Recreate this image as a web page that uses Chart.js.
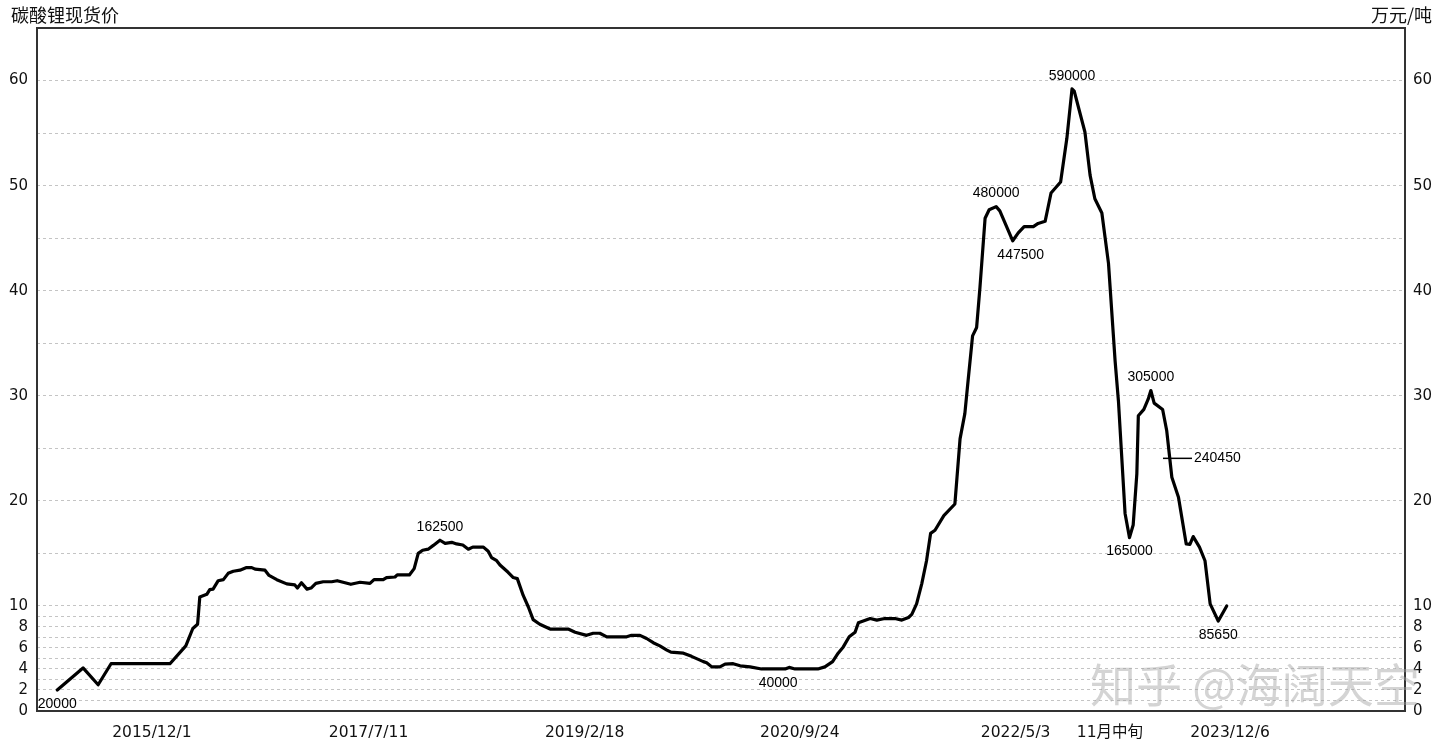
<!DOCTYPE html>
<html lang="zh-CN">
<head>
<meta charset="UTF-8">
<title>碳酸锂现货价</title>
<script src="https://cdn.jsdelivr.net/npm/chart.js"></script>
<style>
  body { margin: 0; background: #fff; }
  #wrap { position: relative; width: 1440px; height: 739px; }
  .cap { position: absolute; top: 5px; font-size: 18px; line-height: 18px; color: #111;
         font-family: 'Noto Sans CJK SC', sans-serif; }
  #wm { position: absolute; left: 1090px; top: 659px; font-size: 46px; line-height: 46px;
        font-family: 'Noto Sans CJK SC', sans-serif; color: rgba(160,160,160,0.45);
        white-space: nowrap; pointer-events: none; }
</style>
</head>
<body>
<div id="wrap">
  <canvas id="myChart" width="1440" height="739"></canvas>
  <div class="cap" style="left:11px">碳酸锂现货价</div>
  <div class="cap" style="right:8px">万元/吨</div>
  <div id="wm">知乎 @海阔天空</div>
</div>
<script>
// 横轴：距 2015/12/1 的天数；纵轴：万元/吨
var days = [-257, -187, -146, -111, 49, 92, 111, 124, 130, 149, 157, 166, 180, 194, 207, 221, 239, 257, 271, 280,
  307, 318, 339, 366, 388, 395, 406, 421, 432, 445, 465, 488, 503, 519, 540, 565, 592, 603, 628, 637,
  660, 666, 699, 712, 723, 735, 750, 764, 782, 796, 814, 827, 844, 859, 871, 900, 913, 922, 936, 945,
  967, 981, 992, 1008, 1022, 1035, 1053, 1081, 1130, 1149, 1180, 1198, 1216, 1235, 1289, 1302, 1325, 1343, 1361, 1379,
  1398, 1409, 1443, 1465, 1497, 1506, 1520, 1542, 1556, 1578, 1597, 1624, 1655, 1700, 1719, 1730, 1746, 1808, 1827, 1848,
  1863, 1877, 1893, 1909, 1918, 1950, 1968, 1990, 2017, 2036, 2054, 2063, 2076, 2090, 2103, 2114, 2126, 2150, 2180, 2194,
  2207, 2216, 2228, 2239, 2248, 2262, 2273, 2292, 2302, 2337, 2352, 2368, 2393, 2406, 2425, 2441, 2467, 2484, 2498, 2504,
  2533, 2547, 2560, 2579, 2597, 2615, 2624, 2642, 2654, 2664, 2674, 2678, 2693, 2705, 2712, 2721, 2744, 2755, 2769, 2787,
  2808, 2818, 2827, 2844, 2859, 2873, 2895, 2918];

var price = [2.0, 4.1, 2.5, 4.5, 4.5, 6.2, 7.85, 8.26, 10.85, 11.1, 11.55, 11.6, 12.4, 12.5, 13.1, 13.3, 13.4, 13.65, 13.65, 13.5,
  13.4, 12.9, 12.5, 12.1, 12.0, 11.7, 12.2, 11.6, 11.7, 12.15, 12.3, 12.3, 12.4, 12.25, 12.06, 12.25, 12.15, 12.5, 12.5, 12.7,
  12.75, 12.95, 12.95, 13.55, 15.0, 15.3, 15.4, 15.76, 16.25, 15.95, 16.05, 15.9, 15.8, 15.4, 15.6, 15.6, 15.2, 14.6, 14.3, 13.9,
  13.2, 12.7, 12.6, 11.0, 9.9, 8.7, 8.26, 7.8, 7.8, 7.5, 7.2, 7.4, 7.4, 7.06, 7.06, 7.2, 7.2, 6.9, 6.5, 6.2,
  5.8, 5.6, 5.5, 5.2, 4.7, 4.6, 4.2, 4.2, 4.46, 4.5, 4.3, 4.2, 4.0, 4.0, 4.0, 4.15, 4.0, 4.0, 4.2, 4.7,
  5.5, 6.1, 7.06, 7.5, 8.4, 8.8, 8.65, 8.8, 8.8, 8.65, 8.9, 9.2, 10.2, 12.1, 14.3, 16.9, 17.2, 18.6, 19.7, 25.9,
  28.3, 31.5, 35.7, 36.5, 40.3, 46.9, 47.7, 48.0, 47.6, 44.75, 45.5, 46.1, 46.1, 46.4, 46.6, 49.3, 50.35, 54.5, 59.2, 59.0,
  55.1, 51.0, 48.75, 47.4, 42.6, 33.3, 29.5, 18.8, 16.5, 17.7, 22.6, 28.1, 28.7, 29.7, 30.5, 29.3, 28.7, 26.7, 22.25, 20.35,
  15.9, 15.86, 16.6, 15.6, 14.3, 10.2, 8.565, 10.0];

var tickDays = [0, 588, 1175, 1759, 2345, 2601, 2927];
var tickText = ['2015/12/1', '2017/7/11', '2019/2/18', '2020/9/24', '2022/5/3', '11月中旬', '2023/12/6'];

var yTicks = [0, 1, 2, 3, 4, 5, 6, 7, 8, 9, 10, 15, 20, 25, 30, 35, 40, 45, 50, 55, 60, 65];
var yLabels = [0, 2, 4, 6, 8, 10, 20, 30, 40, 50, 60];

// 数据标注（元/吨）
var noteDays = [-257, 782, 1700, 2292, 2337, 2498, 2654, 2712, 2895];
var noteText = ['20000', '162500', '40000', '480000', '447500', '590000', '165000', '305000', '85650'];
var notePlace = ['below', 'above', 'below', 'above', 'below-right', 'above', 'below', 'above', 'below'];

var leaderDay = 2745;
var leaderValue = 24.045;
var leaderText = '240450';

var axisFont = { family: "'DejaVu Sans', 'Noto Sans CJK SC', sans-serif", size: 15.5 };

var framePlugin = {
    id: 'frame',
    beforeDatasetsDraw: function(chart) {
        var a = chart.chartArea, ctx = chart.ctx;
        ctx.save();
        ctx.strokeStyle = '#333';
        ctx.lineWidth = 2;
        ctx.strokeRect(a.left, a.top, a.right - a.left, a.bottom - a.top);
        ctx.restore();
    }
};

var notePlugin = {
    id: 'notes',
    afterDatasetsDraw: function(chart) {
        var ctx = chart.ctx;
        var meta = chart.getDatasetMeta(0);
        ctx.save();
        ctx.font = '14px "Liberation Sans", Arial, sans-serif';
        ctx.fillStyle = '#000';
        ctx.textAlign = 'center';
        ctx.textBaseline = 'middle';
        noteDays.forEach(function(d, i) {
            var pt = meta.data[days.indexOf(d)];
            var dy = notePlace[i] === 'above' ? -13 : 14;
            var dx = notePlace[i] === 'below-right' ? 8 : 0;
            ctx.fillText(noteText[i], pt.x + dx, pt.y + dy);
        });
        var lx = chart.scales.x.getPixelForValue(leaderDay);
        var ly = chart.scales.y.getPixelForValue(leaderValue);
        ctx.strokeStyle = '#000';
        ctx.lineWidth = 1.5;
        ctx.beginPath();
        ctx.moveTo(lx, ly);
        ctx.lineTo(lx + 29, ly);
        ctx.stroke();
        ctx.textAlign = 'left';
        ctx.fillText(leaderText, lx + 31, ly);
        ctx.restore();
    }
};

function yAxis(side, w, pad) {
    return {
        type: 'linear',
        position: side,
        min: 0,
        max: 65,
        afterBuildTicks: function(s) { s.ticks = yTicks.map(function(v) { return { value: v }; }); },
        afterFit: function(s) { s.width = w; },
        ticks: {
            autoSkip: false,
            padding: pad,
            color: '#111',
            font: { family: "'DejaVu Sans', sans-serif", size: 15 },
            callback: function(v) { return yLabels.indexOf(v) >= 0 ? String(v) : ''; }
        },
        grid: { color: '#c4c4c4', lineWidth: 1, drawTicks: false, drawOnChartArea: side === 'left' },
        border: { display: false, dash: [3, 3] }
    };
}

var ctx = document.getElementById('myChart').getContext('2d');
var myChart = new Chart(ctx, {
    type: 'line',
    data: {
        datasets: [{
            label: '碳酸锂现货价',
            data: days.map(function(d, i) { return { x: d, y: price[i] }; }),
            borderColor: '#000',
            borderWidth: 3.2,
            pointRadius: 0,
            tension: 0,
            fill: false,
            borderJoinStyle: 'round',
            borderCapStyle: 'round',
            yAxisID: 'y'
        }]
    },
    options: {
        responsive: false,
        animation: false,
        layout: { padding: { top: 28, left: 0, right: 0, bottom: 0 } },
        plugins: { legend: { display: false }, tooltip: { enabled: false } },
        scales: {
            x: {
                type: 'linear',
                min: -312,
                max: 3402,
                afterBuildTicks: function(s) { s.ticks = tickDays.map(function(v) { return { value: v }; }); },
                afterFit: function(s) { s.height = 28; },
                ticks: {
                    autoSkip: false,
                    maxRotation: 0,
                    padding: 5,
                    color: '#111',
                    font: axisFont,
                    callback: function(v) { return tickText[tickDays.indexOf(v)]; }
                },
                grid: { display: false },
                border: { display: false }
            },
            y: yAxis('left', 37, 9),
            y2: yAxis('right', 35, 8)
        }
    },
    plugins: [framePlugin, notePlugin]
});
</script>
</body>
</html>
